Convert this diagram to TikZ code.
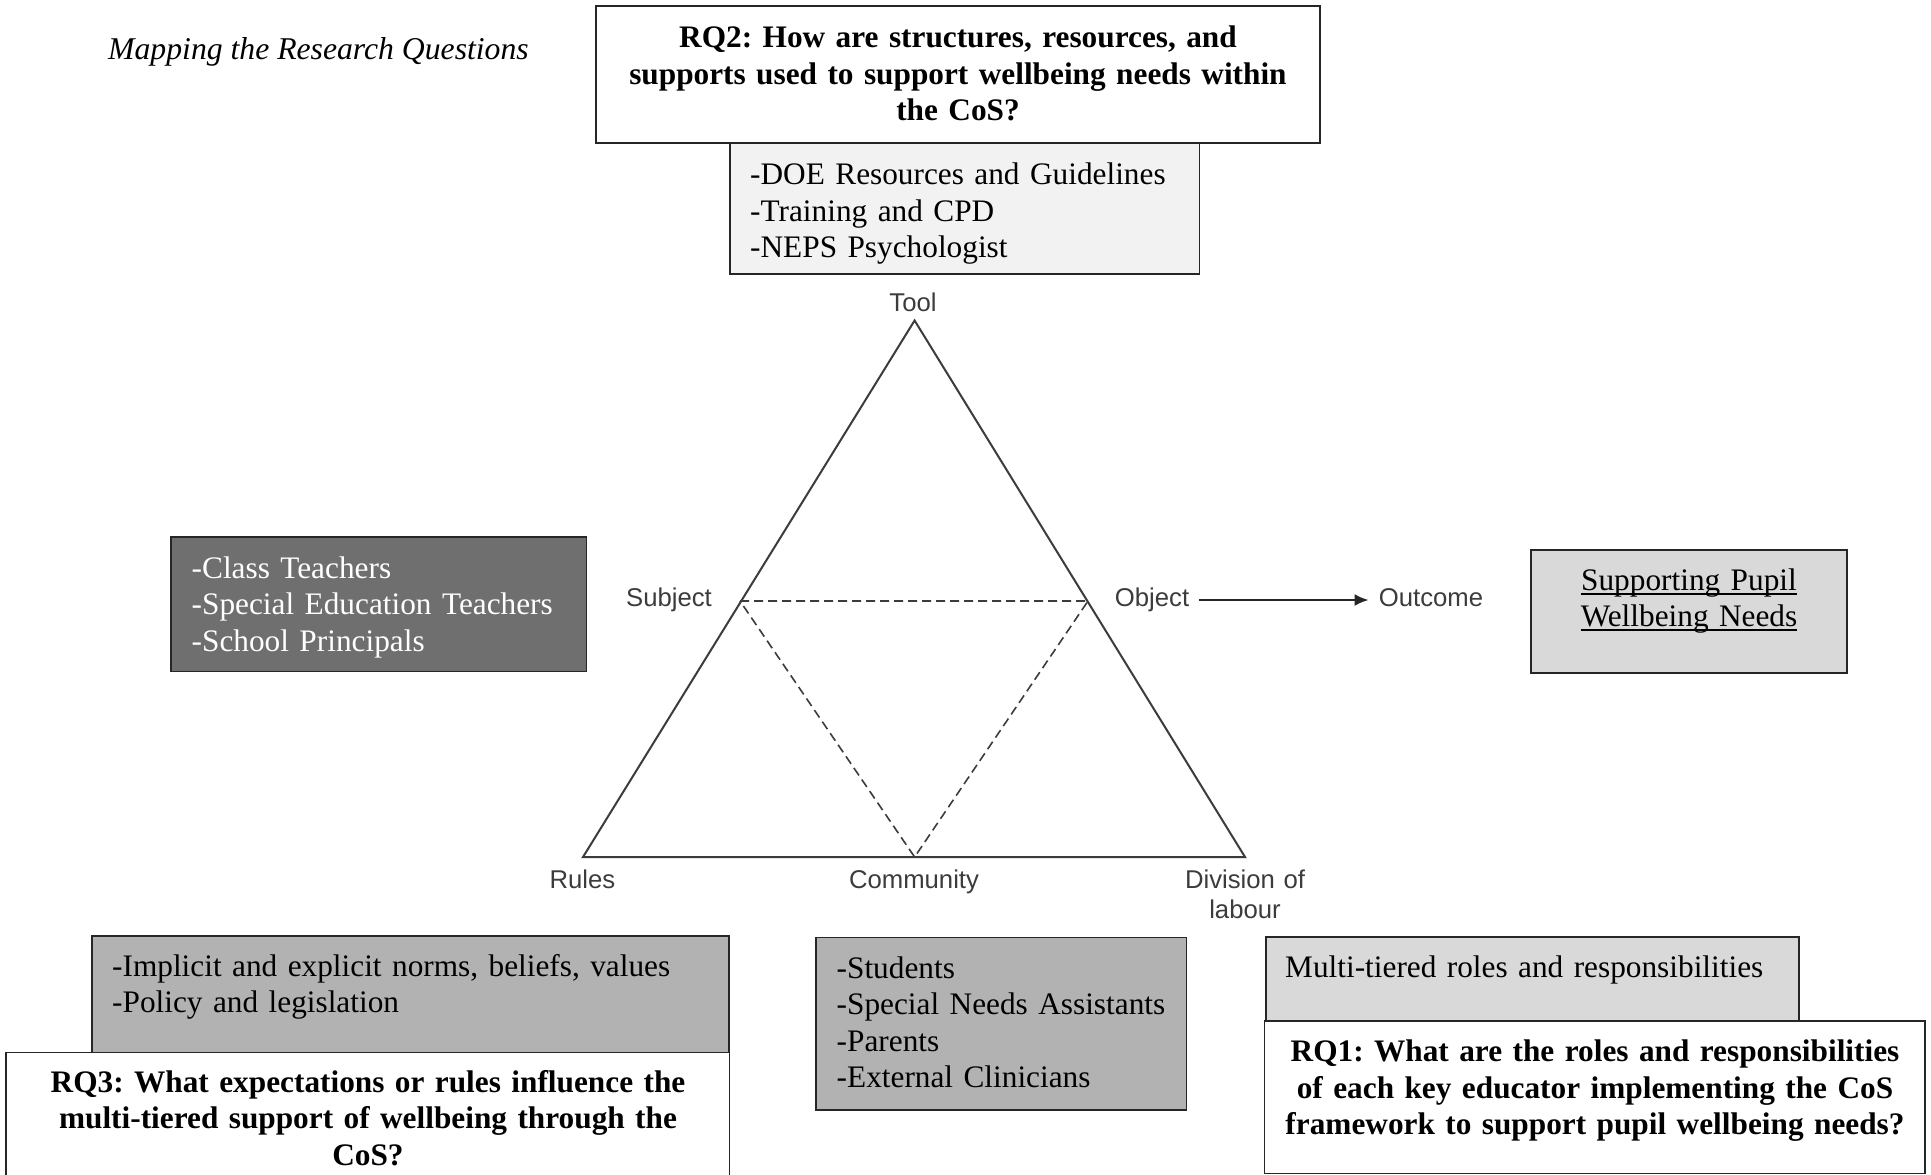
\documentclass[tikz,border=0pt]{standalone}
\usepackage{fontspec}
\setmainfont{Liberation Serif}
\newfontfamily\vertexfont{Liberation Sans}
\usetikzlibrary{arrows.meta}
\frenchspacing

\definecolor{toolfill}{HTML}{F2F2F2}
\definecolor{darkfill}{HTML}{6F6F6F}
\definecolor{lightfill}{HTML}{D9D9D9}
\definecolor{midfill}{HTML}{B2B2B2}
\definecolor{edgegray}{HTML}{3C3C3C}
\definecolor{boxedge}{HTML}{262626}

% underline set just below the baseline, crossing the descenders
\newcommand{\ulword}[1]{\leavevmode\setbox0\hbox{#1}\rlap{\rule[-4.6pt]{\wd0}{1.8pt}}\box0}
\newcommand{\bodysize}{\fontsize{31.3}{36.5}\selectfont}

\tikzset{
  panel/.style={draw=boxedge, line width=1.5pt, anchor=north west,
    inner sep=0pt, outer sep=0pt},
  bodyleft/.style={font=\bodysize, inner sep=0pt,
    anchor=base west, align=left, text width=#1},
  bodymid/.style={font=\bodysize, inner sep=0pt,
    anchor=base, align=center, text width=#1},
  vertex/.style={font=\vertexfont\fontsize{25.7}{31}\selectfont, text=edgegray,
    anchor=base, inner xsep=10pt, inner ysep=2pt, text height=18pt, text depth=5pt},
  vertexml/.style={font=\vertexfont\fontsize{25.7}{30.5}\selectfont, text=edgegray,
    anchor=base, inner sep=0pt, align=center, text width=#1},
  frame/.style={draw=edgegray, line width=2pt, line join=miter},
  inner link/.style={draw=edgegray, line width=1.6pt, dash pattern=on 9pt off 5pt},
  conn/.style={draw=black!85, line width=2.4pt},
}

\begin{document}
\begin{tikzpicture}[x=1pt, y=-1pt]
\useasboundingbox (0,0) rectangle (1931,1175);
\fill[white] (0,0) rectangle (1931,1175);

% heading
\node[font=\fontsize{31.7}{36.5}\selectfont\itshape, anchor=base, inner sep=0pt]
  (heading) at (318.5,59) {Mapping the Research Questions};

% RQ2 and its tools
\node[panel, fill=white, minimum width=724pt, minimum height=137pt] (rq2box) at (596,6) {};
\node[bodymid=700pt, font=\bodysize\bfseries] (rq2) at (958,47.5)
  {RQ2: How are structures, resources, and\\supports used to support wellbeing needs within\\the CoS?};
\node[panel, fill=toolfill, minimum width=469.5pt, minimum height=131pt] (toolbox) at (730,143) {};
\node[bodyleft=440pt] (tooltext) at (750,184.7)
  {-DOE Resources and Guidelines\\-Training and CPD\\-NEPS Psychologist};

% subjects
\node[panel, fill=darkfill, minimum width=415.5pt, minimum height=134.5pt] (subjbox) at (171,537) {};
\node[bodyleft=390pt, text=white] (subjtext) at (191.5,578)
  {-Class Teachers\\-Special Education Teachers\\-School Principals};

% outcome
\node[panel, fill=lightfill, minimum width=316pt, minimum height=123pt] (outbox) at (1531,550) {};
\node[bodymid=300pt] (outtext) at (1689,590)
  {\ulword{Supporting Pupil}\\\ulword{Wellbeing Needs}};

% rules and RQ3
\node[panel, fill=midfill, minimum width=637pt, minimum height=117pt] (rulebox) at (92,936) {};
\node[bodyleft=610pt] (ruletext) at (112,976)
  {-Implicit and explicit norms, beliefs, values\\-Policy and legislation};
\node[panel, fill=white, minimum width=723.5pt, minimum height=126pt] (rq3box) at (6,1052.5) {};
\node[bodymid=700pt, font=\bodysize\bfseries] (rq3) at (368,1092)
  {RQ3: What expectations or rules influence the\\multi-tiered support of wellbeing through the\\CoS?};

% community
\node[panel, fill=midfill, minimum width=370.5pt, minimum height=172.5pt] (commbox) at (816,937.5) {};
\node[bodyleft=350pt] (commtext) at (836.5,978)
  {-Students\\-Special Needs Assistants\\-Parents\\-External Clinicians};

% division of labour and RQ1
\node[panel, fill=lightfill, minimum width=533pt, minimum height=83.5pt] (divbox) at (1266,937) {};
\node[bodyleft=510pt] (divtext) at (1285,977) {Multi-tiered roles and responsibilities};
\node[panel, fill=white, minimum width=660.5pt, minimum height=152.5pt] (rq1box) at (1264.5,1021) {};
\node[bodymid=640pt, font=\bodysize\bfseries] (rq1) at (1595,1061.5)
  {RQ1: What are the roles and responsibilities\\of each key educator implementing the CoS\\framework to support pupil wellbeing needs?};

% activity triangle
\coordinate (apex) at (914.6,320.5);
\coordinate (left) at (583,857);
\coordinate (right) at (1245,857);
\coordinate (subjpt) at (740,601);
\coordinate (objpt) at (1088,601);
\coordinate (commpt) at (914.6,857);
\draw[frame] (apex) -- (left) -- (right) -- cycle;
\draw[inner link] (subjpt) -- (objpt) -- (commpt) -- cycle;

\node[vertex] (tool) at (913,311.5) {Tool};
\node[vertex] (subj) at (669,606.5) {Subject};
\node[vertex] (obj) at (1152,606.5) {Object};
\node[vertex] (outc) at (1431,606.5) {Outcome};
\node[vertex] (rules) at (582.5,888) {Rules};
\node[vertex] (comm) at (914,888) {Community};
\node[vertexml=160pt] (divlab) at (1245,888) {Division of\\labour};

\draw[conn, -{Latex[length=14pt,width=12pt]}] (obj.east) -- (outc.west);
\end{tikzpicture}
\end{document}
